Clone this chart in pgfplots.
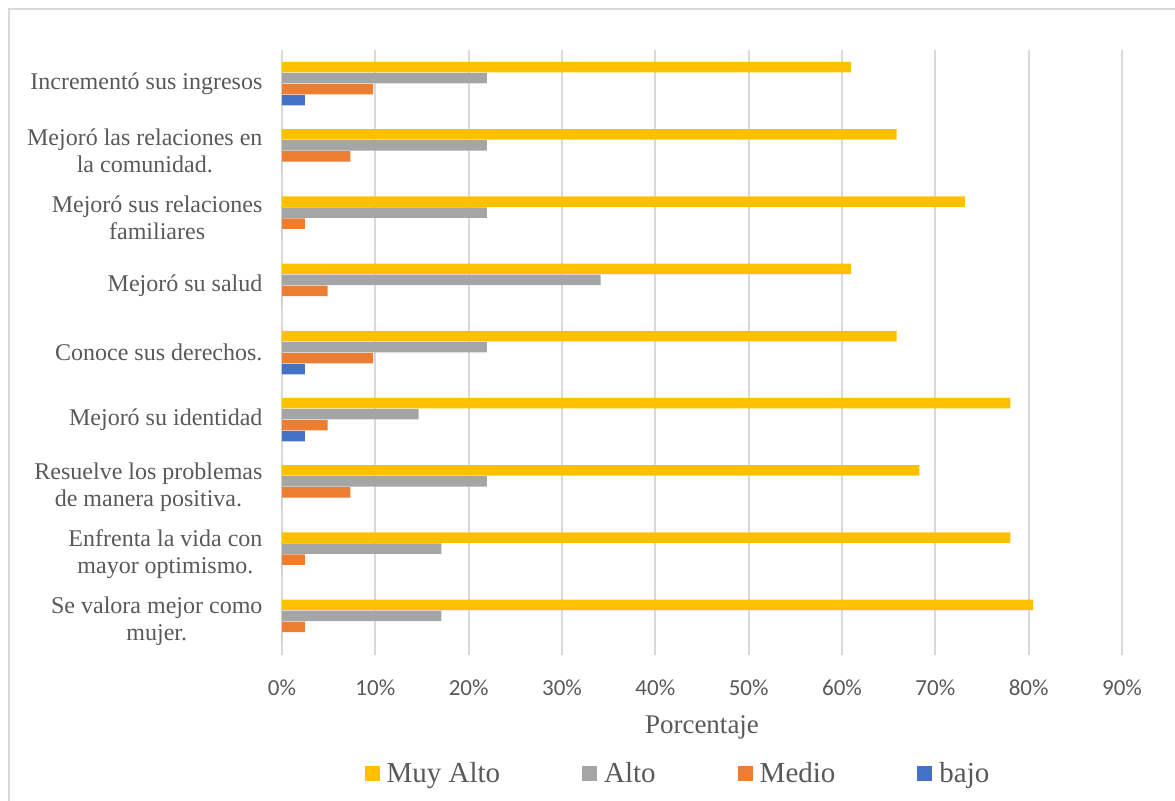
\documentclass[border=0pt]{standalone}
\usepackage{fontspec}
\setmainfont{Liberation Serif}
\newfontfamily\tickfont{Carlito}
\usepackage{pgfplots}
\pgfplotsset{compat=1.18}
\definecolor{cyellow}{HTML}{FFC000}
\definecolor{cgray}{HTML}{A5A5A5}
\definecolor{corange}{HTML}{ED7D31}
\definecolor{cblue}{HTML}{4472C4}
\definecolor{gridgray}{HTML}{D9D9D9}
\definecolor{textgray}{HTML}{595959}
\begin{document}
\begin{tikzpicture}
\useasboundingbox (0,0) rectangle (587.5pt,-400pt);
\draw[gridgray, line width=1pt] (4.5pt,-4.5pt) rectangle (600pt,-410pt);
\begin{axis}[
  at={(141pt,-327.5pt)}, anchor=south west,
  scale only axis, width=420pt, height=302.5pt,
  xbar, bar width=5.25pt,
  xmin=0, xmax=90, ymin=-0.5, ymax=8.5,
  y dir=reverse,
  axis line style={draw=none},
  tick style={draw=none},
  xmajorgrids, grid style={gridgray, line width=1pt},
  xtick={0,10,20,30,40,50,60,70,80,90},
  xticklabels={0\%,10\%,20\%,30\%,40\%,50\%,60\%,70\%,80\%,90\%},
  xticklabel style={font=\tickfont\fontsize{11.5}{13}\selectfont, text=textgray, yshift=-9pt},
  ytick={0,1,2,3,4,5,6,7,8},
  yticklabels={
    {Incrementó sus ingresos},
    {Mejoró las relaciones en\\la comunidad.},
    {Mejoró sus relaciones\\familiares},
    {Mejoró su salud},
    {Conoce sus derechos.},
    {Mejoró su identidad},
    {Resuelve los problemas\\de manera positiva.},
    {Enfrenta la vida con\\mayor optimismo.},
    {Se valora mejor como\\mujer.}},
  yticklabel style={font=\fontsize{12}{13.5}\selectfont, align=center, text=textgray, xshift=-2pt},
  xlabel={Porcentaje},
  xlabel style={at={(axis description cs:0.5,0)}, anchor=center, yshift=-36pt, font=\fontsize{13.5}{15}\selectfont, text=textgray},
  legend columns=4,
  legend style={at={(axis description cs:0.4726,-0.1959)}, anchor=center, draw=none, fill=none,
    font=\fontsize{14.5}{16}\selectfont, text=textgray,
    /tikz/every odd column/.append style={column sep=1.5pt},
    /tikz/every even column/.append style={column sep=39pt}},
  legend image code/.code={\fill[#1] (0pt,-3.75pt) rectangle (7.5pt,3.75pt);},
]
\addplot[fill=cyellow, draw=none, bar shift=8.25pt] coordinates {
  (60.98,0) (65.85,1) (73.17,2) (60.98,3) (65.85,4) (78.05,5) (68.29,6) (78.05,7) (80.49,8)};
\addplot[fill=cgray, draw=none, bar shift=2.75pt] coordinates {
  (21.95,0) (21.95,1) (21.95,2) (34.15,3) (21.95,4) (14.63,5) (21.95,6) (17.07,7) (17.07,8)};
\addplot[fill=corange, draw=none, bar shift=-2.75pt] coordinates {
  (9.76,0) (7.32,1) (2.44,2) (4.88,3) (9.76,4) (4.88,5) (7.32,6) (2.44,7) (2.44,8)};
\addplot[fill=cblue, draw=none, bar shift=-8.25pt] coordinates {
  (2.44,0) (0,1) (0,2) (0,3) (2.44,4) (2.44,5) (0,6) (0,7) (0,8)};
\legend{Muy Alto, Alto, Medio, bajo}
\end{axis}
\end{tikzpicture}
\end{document}
